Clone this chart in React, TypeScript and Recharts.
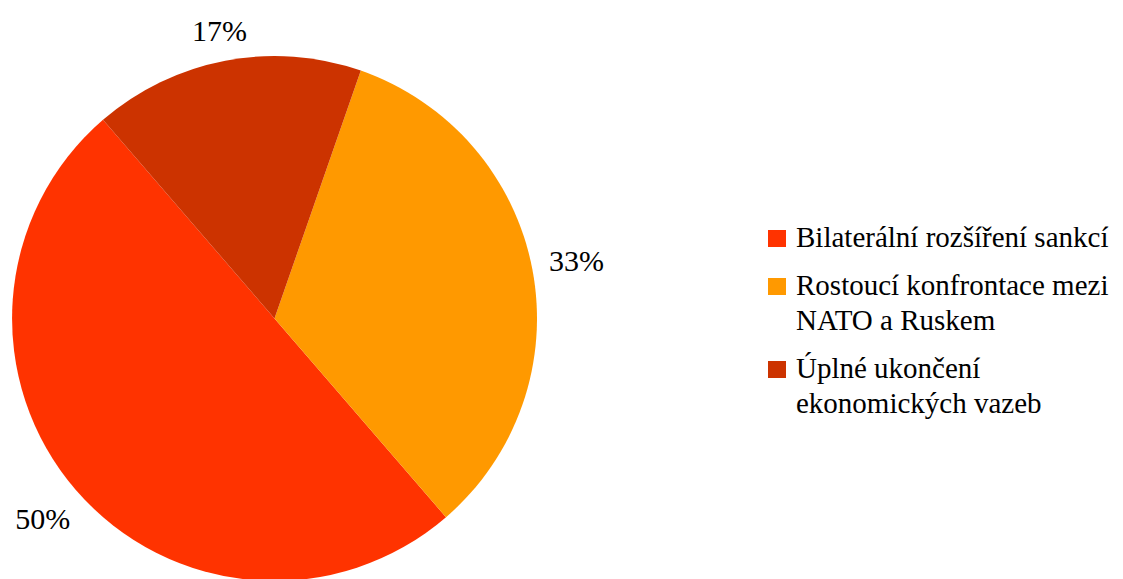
import React from 'react';
import { PieChart, Pie, Cell } from 'recharts';

const categories = [
  'Bilaterální rozšíření sankcí',
  'Rostoucí konfrontace mezi NATO a Ruskem',
  'Úplné ukončení ekonomických vazeb'
];
const values = [3, 2, 1];
const colors = ['#FF3300', '#FF9900', '#CC3300'];

const data = categories.map((name, i) => ({ name, value: values[i] }));

const RADIAN = Math.PI / 180;
const FONT = "'Liberation Serif'";

// percentage labels sit just outside the rim, nudged by half the text box
const renderLabel = (props: any) => {
  const { cx, cy, midAngle, outerRadius, percent } = props;
  const cos = Math.cos(-midAngle * RADIAN);
  const sin = Math.sin(-midAngle * RADIAN);
  const w = 57;
  const h = 22;
  const r = outerRadius + 15 + Math.abs(cos) * w / 2 + Math.abs(sin) * h / 2;
  const x = cx + r * cos;
  const y = cy + r * sin;
  return (
    <text x={x} y={y} fill="#000" textAnchor="middle" dominantBaseline="central"
      style={{ fontFamily: FONT, fontSize: 30 }}>
      {`${Math.round(percent * 100)}%`}
    </text>
  );
};

export default function App() {
  return (
    <div style={{ position: 'absolute', left: 0, top: 0, width: 1123, height: 579, background: '#fff' }}>
      <PieChart width={1123} height={579} margin={{ top: 0, right: 0, bottom: 0, left: 0 }}>
        <Pie
          data={data}
          dataKey="value"
          nameKey="name"
          cx={274.5}
          cy={318.5}
          outerRadius={262.5}
          startAngle={130.8}
          endAngle={490.8}
          stroke="none"
          label={renderLabel}
          labelLine={false}
          isAnimationActive={false}
        >
          {data.map((d, i) => (
            <Cell key={d.name} fill={colors[i]} />
          ))}
        </Pie>
      </PieChart>
      {/* legend as plain html next to the pie */}
      <div style={{ position: 'absolute', left: 768, top: 220, fontFamily: FONT, fontSize: 29, color: '#000' }}>
        {categories.map((name, i) => (
          <div key={name} style={{ display: 'flex', alignItems: 'flex-start', marginBottom: 13 }}>
            <div style={{ width: 18, height: 17, background: colors[i], marginTop: 10, marginRight: 10, flexShrink: 0 }} />
            <div style={{ width: 330, lineHeight: '35px' }}>{name}</div>
          </div>
        ))}
      </div>
    </div>
  );
}
